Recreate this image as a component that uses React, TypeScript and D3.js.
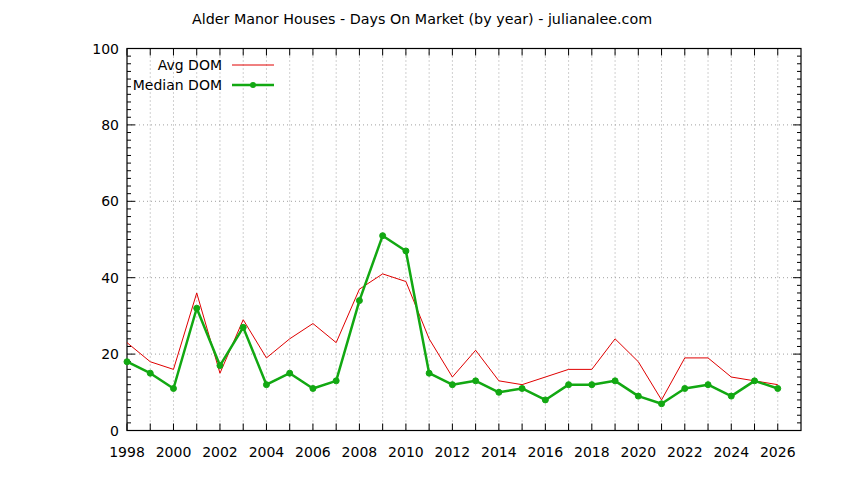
import * as d3 from 'd3';
import React, { ReactElement, useEffect, useRef } from 'react';

const WIDTH = 844;
const HEIGHT = 480;

const years = [
  1998, 1999, 2000, 2001, 2002, 2003, 2004, 2005, 2006, 2007, 2008, 2009, 2010, 2011, 2012,
  2013, 2014, 2015, 2016, 2017, 2018, 2019, 2020, 2021, 2022, 2023, 2024, 2025, 2026,
];
const avgDom = [
  23, 18, 16, 36, 15, 29, 19, 24, 28, 23, 37, 41, 39, 24, 14,
  21, 13, 12, 14, 16, 16, 24, 18, 8, 19, 19, 14, 13, 12,
];
const medianDom = [
  18, 15, 11, 32, 17, 27, 12, 15, 11, 13, 34, 51, 47, 15, 12,
  13, 10, 11, 8, 12, 12, 13, 9, 7, 11, 12, 9, 13, 11,
];
const xTickLabels = [1998, 2000, 2002, 2004, 2006, 2008, 2010, 2012, 2014, 2016, 2018, 2020, 2022, 2024, 2026];
const yTickLabels = [0, 20, 40, 60, 80, 100];
const seriesNames = ['Avg DOM', 'Median DOM'];
const title = 'Alder Manor Houses - Days On Market (by year) - julianalee.com';

const FONT = "'DejaVu Sans', sans-serif";
const RED = '#e00000';
const GREEN = '#12a812';

const DomChart = (): ReactElement => {
  const ref = useRef<HTMLDivElement>(null);

  useEffect(() => {
    const left = 127;
    const right = 801;
    const top = 48.5;
    const bottom = 430.5;

    const x = d3.scaleLinear().domain([1998, 2027]).range([left, right]);
    const y = d3.scaleLinear().domain([0, 100]).range([bottom, top]);

    const svg = d3
      .select(ref.current)
      .append('svg')
      .attr('width', WIDTH)
      .attr('height', HEIGHT)
      .style('display', 'block')
      .style('font-family', FONT);

    svg.append('rect').attr('width', WIDTH).attr('height', HEIGHT).attr('fill', '#fff');

    // grid: vertical every year, horizontal every 20
    const grid = svg.append('g').attr('stroke', '#a0a0a0').attr('stroke-width', 1).attr('stroke-dasharray', '1,3');
    years.slice(1).forEach((yr) => {
      grid.append('line').attr('x1', x(yr)).attr('x2', x(yr)).attr('y1', top).attr('y2', bottom);
    });
    yTickLabels.slice(1, -1).forEach((v) => {
      grid.append('line').attr('x1', left).attr('x2', right).attr('y1', y(v)).attr('y2', y(v));
    });

    // ticks
    const ticks = svg.append('g').attr('stroke', '#000').attr('stroke-width', 1);
    years.forEach((yr) => {
      ticks.append('line').attr('x1', x(yr)).attr('x2', x(yr)).attr('y1', bottom).attr('y2', bottom - 7);
      ticks.append('line').attr('x1', x(yr)).attr('x2', x(yr)).attr('y1', top).attr('y2', top + 7);
    });
    d3.range(0, 101, 2).forEach((v) => {
      const len = v % 20 === 0 ? 8 : 4;
      ticks.append('line').attr('x1', left).attr('x2', left + len).attr('y1', y(v)).attr('y2', y(v));
      ticks.append('line').attr('x1', right).attr('x2', right - len).attr('y1', y(v)).attr('y2', y(v));
    });

    // frame
    svg
      .append('rect')
      .attr('x', left)
      .attr('y', top)
      .attr('width', right - left)
      .attr('height', bottom - top)
      .attr('fill', 'none')
      .attr('stroke', '#000')
      .attr('stroke-width', 1.2);

    // tick labels
    svg
      .append('g')
      .selectAll('text')
      .data(xTickLabels)
      .enter()
      .append('text')
      .attr('x', (d) => x(d))
      .attr('y', bottom + 26)
      .attr('text-anchor', 'middle')
      .attr('font-size', 14)
      .text((d) => d);
    svg
      .append('g')
      .selectAll('text')
      .data(yTickLabels)
      .enter()
      .append('text')
      .attr('x', left - 8)
      .attr('y', (d) => y(d) + 5)
      .attr('text-anchor', 'end')
      .attr('font-size', 14)
      .text((d) => d);

    // title
    svg
      .append('text')
      .attr('x', 422)
      .attr('y', 24)
      .attr('text-anchor', 'middle')
      .attr('font-size', 14.3)
      .text(title);

    // series
    const line = d3
      .line<number>()
      .x((_, i) => x(years[i]))
      .y((d) => y(d));

    svg.append('path').attr('d', line(avgDom)).attr('fill', 'none').attr('stroke', RED).attr('stroke-width', 1);
    svg
      .append('path')
      .attr('d', line(medianDom))
      .attr('fill', 'none')
      .attr('stroke', GREEN)
      .attr('stroke-width', 2.5)
      .attr('stroke-linejoin', 'round');
    svg
      .append('g')
      .selectAll('circle')
      .data(medianDom)
      .enter()
      .append('circle')
      .attr('cx', (_, i) => x(years[i]))
      .attr('cy', (d) => y(d))
      .attr('r', 3)
      .attr('fill', GREEN)
      .attr('stroke', GREEN)
      .attr('stroke-width', 1);

    // legend
    const legend = svg.append('g').attr('font-size', 14);
    [RED, GREEN].forEach((color, i) => {
      const ly = 65 + i * 20;
      legend
        .append('text')
        .attr('x', 222)
        .attr('y', ly + 5)
        .attr('text-anchor', 'end')
        .text(seriesNames[i]);
      legend
        .append('line')
        .attr('x1', 232)
        .attr('x2', 274)
        .attr('y1', ly)
        .attr('y2', ly)
        .attr('stroke', color)
        .attr('stroke-width', i === 0 ? 1 : 2.5);
      if (i === 1) {
        legend.append('circle').attr('cx', 253).attr('cy', ly).attr('r', 3).attr('fill', color);
      }
    });

    return () => {
      d3.select(ref.current).selectAll('svg').remove();
    };
  }, []);

  return <div ref={ref}></div>;
};

export default function App(): ReactElement {
  return (
    <div style={{ margin: -8 }}>
      <DomChart />
    </div>
  );
}
